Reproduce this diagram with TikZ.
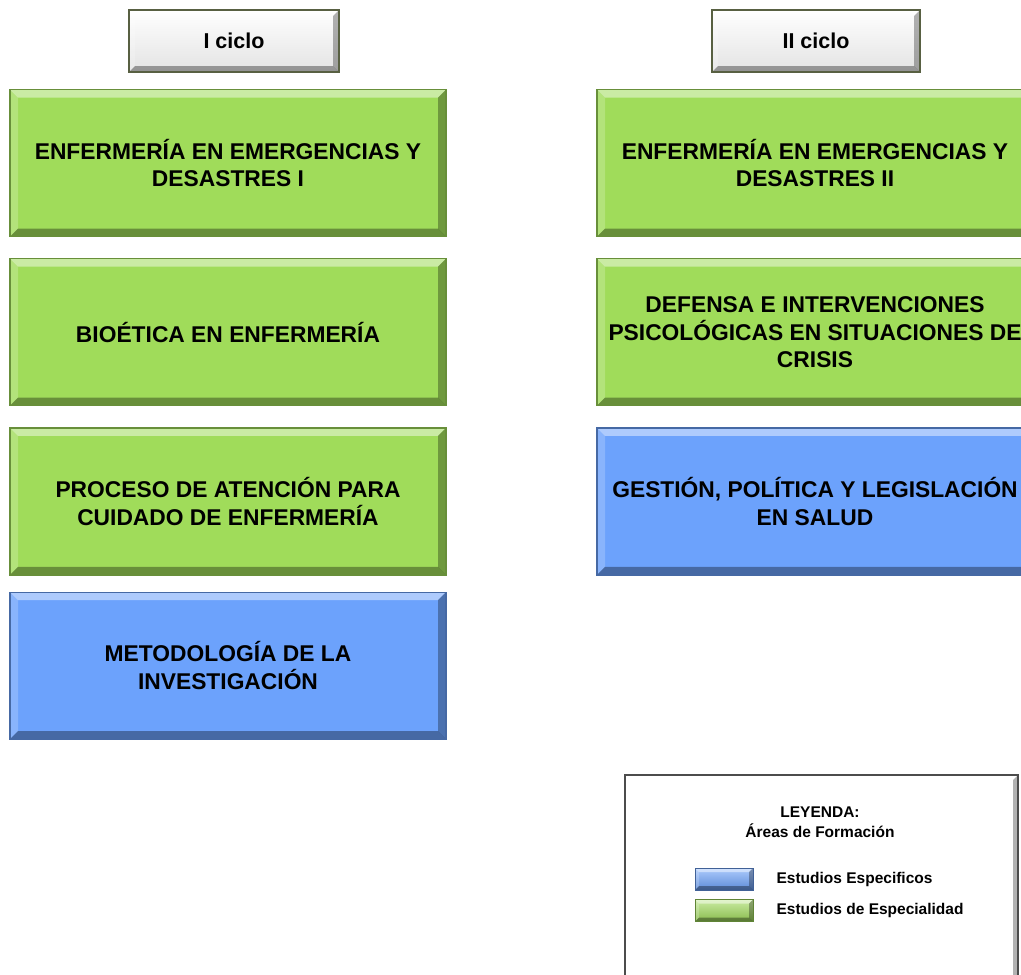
\documentclass[tikz,border=0pt]{standalone}
\usepackage{fontspec}
\setmainfont{Liberation Sans}
\usetikzlibrary{positioning}

\definecolor{verdeesp}{RGB}{160,220,90}
\definecolor{azulesp}{RGB}{108,162,252}
\definecolor{bordeciclo}{RGB}{88,96,66}

\tikzset{
  bisel/.style={path picture={
      \fill[white,opacity=.45] (path picture bounding box.north west) -- (path picture bounding box.north east)
        -- ([shift={(-#1,-#1)}]path picture bounding box.north east) -- ([shift={(#1,-#1)}]path picture bounding box.north west) -- cycle;
      \fill[white,opacity=.2] (path picture bounding box.north west) -- (path picture bounding box.south west)
        -- ([shift={(#1,#1)}]path picture bounding box.south west) -- ([shift={(#1,-#1)}]path picture bounding box.north west) -- cycle;
      \fill[black,opacity=.3] (path picture bounding box.north east) -- (path picture bounding box.south east)
        -- ([shift={(-#1,#1)}]path picture bounding box.south east) -- ([shift={(-#1,-#1)}]path picture bounding box.north east) -- cycle;
      \fill[black,opacity=.35] (path picture bounding box.south west) -- (path picture bounding box.south east)
        -- ([shift={(-#1,#1)}]path picture bounding box.south east) -- ([shift={(#1,#1)}]path picture bounding box.south west) -- cycle;
    }},
  bisel/.default=8pt,
  curso/.style={draw=#1!65!black, line width=1.2pt, fill=#1, bisel, minimum width=436pt, minimum height=147pt,
    align=center, inner sep=0pt, font=\bfseries\fontsize{22.8}{27.5}\selectfont},
  ciclo/.style={draw=bordeciclo, line width=2.2pt, top color=white, bottom color=gray!22, bisel=6pt,
    minimum width=210pt, minimum height=62pt, font=\bfseries\fontsize{21.5}{25}\selectfont},
  leyenda/.style={draw=black!70, line width=1.5pt, fill=white, bisel=5pt, minimum width=393pt, minimum height=210pt},
  muestra/.style={draw=#1!60!black, line width=.8pt, top color=#1!55!white, bottom color=#1!85!black, bisel=4pt,
    minimum width=58pt, minimum height=22pt, inner sep=0pt},
  etiqueta/.style={font=\bfseries\fontsize{15.5}{19}\selectfont, inner sep=0pt, anchor=west},
  node distance=21pt
}

\begin{document}
\begin{tikzpicture}[x=1pt,y=-1pt]
\useasboundingbox (0,0) rectangle (1021,975);
\clip (0,0) rectangle (1021,975);

% ciclos
\node[ciclo] (cicloI) at (234,41) {I ciclo};
\node[ciclo, minimum width=208pt] (cicloII) at (816,41) {II ciclo};

% I ciclo
\node[curso=verdeesp] (emerI) at (228,163) {ENFERMERÍA EN EMERGENCIAS Y\\DESASTRES I};
\node[curso=verdeesp, below=of emerI] (bioetica) {BIOÉTICA EN ENFERMERÍA};
\node[curso=verdeesp, below=of bioetica] (proceso) {PROCESO DE ATENCIÓN PARA\\CUIDADO DE ENFERMERÍA};
\node[curso=azulesp, below=16pt of proceso] (metodo) {METODOLOGÍA DE LA\\INVESTIGACIÓN};

% II ciclo
\node[curso=verdeesp] (emerII) at (815,163) {ENFERMERÍA EN EMERGENCIAS Y\\DESASTRES II};
\node[curso=verdeesp, below=of emerII] (defensa) {DEFENSA E INTERVENCIONES\\PSICOLÓGICAS EN SITUACIONES DE\\CRISIS};
\node[curso=azulesp, below=of defensa] (gestion) {GESTIÓN, POLÍTICA Y LEGISLACIÓN\\EN SALUD};

% leyenda
\node[leyenda] (ley) at (821.5,880) {};
\node[font=\bfseries\fontsize{15.5}{20}\selectfont, align=center] (titulo) at (820,822) {LEYENDA:\\Áreas de Formación};
\node[muestra=azulesp] (mazul) at (724,879) {};
\node[muestra=verdeesp] (mverde) at (724,910.5) {};
\node[etiqueta, right=23pt of mazul] (tazul) {Estudios Especificos};
\node[etiqueta, right=23pt of mverde] (tverde) {Estudios de Especialidad};
\end{tikzpicture}
\end{document}
